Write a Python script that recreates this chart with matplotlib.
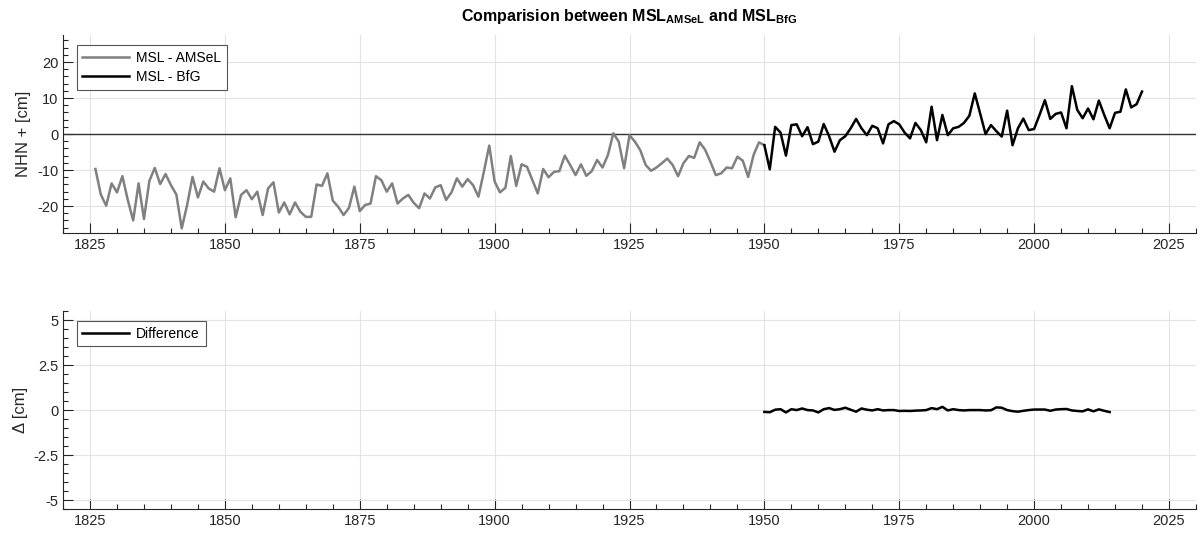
import numpy as np
import matplotlib
matplotlib.use('Agg')
import matplotlib.pyplot as plt
from matplotlib.ticker import MultipleLocator, FormatStrFormatter

plt.rcParams['font.family'] = ['Liberation Sans', 'DejaVu Sans']
plt.rcParams['mathtext.fontset'] = 'custom'
plt.rcParams['mathtext.rm'] = 'Liberation Sans'
plt.rcParams['mathtext.bf'] = 'Liberation Sans:bold'
plt.rcParams['axes.unicode_minus'] = False

# annual mean sea level, AMSeL reconstruction (cm above NHN)
years_amsel = np.arange(1826, 1951)
msl_amsel = [-9.7, -16.8, -19.9, -13.7, -16.2, -11.7, -18.3, -24.0, -13.7, -23.6,
             -13.0, -9.4, -13.9, -11.1, -14.2, -16.8, -26.2, -19.7, -11.9, -17.6,
             -13.2, -15.1, -16.0, -9.5, -15.6, -12.3, -23.1, -16.9, -15.6, -18.1,
             -16.0, -22.5, -15.1, -13.4, -21.8, -19.0, -22.3, -19.0, -21.6, -23.0,
             -23.0, -14.0, -14.4, -10.9, -18.5, -20.2, -22.5, -20.5, -14.6, -21.4,
             -19.7, -19.3, -11.7, -12.8, -16.0, -13.7, -19.3, -17.9, -16.9, -19.1,
             -20.6, -16.5, -17.9, -14.8, -14.2, -18.3, -16.2, -12.3, -14.6, -12.5,
             -14.2, -17.4, -10.5, -3.2, -13.2, -16.2, -14.9, -6.1, -14.4, -8.4,
             -9.1, -12.8, -16.5, -9.7, -12.0, -10.5, -10.3, -6.0, -8.6, -11.4,
             -8.4, -11.6, -10.3, -7.2, -9.3, -5.8, 0.2, -2.1, -9.5, -0.3,
             -2.1, -4.5, -8.6, -10.2, -9.3, -8.1, -6.8, -8.6, -11.7, -8.1,
             -6.1, -6.6, -2.3, -4.3, -7.7, -11.4, -10.9, -9.3, -9.5, -6.3,
             -7.4, -11.9, -5.8, -2.3, -3.1]

# BfG series
years_bfg = np.arange(1950, 2021)
msl_bfg = [-3.1, -9.8, 2.0, 0.4, -6.0, 2.5, 2.7, -0.6, 1.9, -2.8,
           -2.1, 2.8, -0.6, -4.9, -1.7, -0.6, 1.6, 4.2, 1.6, -0.3,
           2.3, 1.6, -2.6, 2.7, 3.6, 2.7, 0.4, -1.2, 3.1, 1.1,
           -2.3, 7.6, -1.7, 5.3, -0.3, 1.6, 2.0, 3.1, 5.1, 11.3,
           5.7, 0.0, 2.5, 0.8, -0.7, 6.5, -3.1, 1.6, 4.3, 1.1,
           1.4, 5.3, 9.4, 4.2, 5.6, 6.0, 1.6, 13.3, 6.7, 4.4,
           7.1, 4.1, 9.3, 5.3, 1.6, 5.9, 6.2, 12.4, 7.4, 8.3,
           11.8]

# difference AMSeL - BfG in overlap period
years_diff = np.arange(1950, 2015)
diff = [-0.10, -0.12, 0.02, 0.05, -0.13, 0.05, 0.00, 0.09, 0.00, -0.02,
        -0.13, 0.05, 0.11, 0.01, 0.05, 0.13, 0.02, -0.09, 0.09, 0.02,
        -0.02, 0.05, -0.02, 0.00, 0.00, -0.05, -0.04, -0.05, -0.03, -0.02,
        0.00, 0.11, 0.05, 0.18, -0.02, 0.05, 0.00, -0.02, 0.00, 0.00,
        0.00, -0.02, -0.01, 0.15, 0.13, 0.00, -0.06, -0.09, -0.04, 0.00,
        0.03, 0.03, 0.03, -0.04, 0.03, 0.05, 0.06, -0.02, -0.05, -0.07,
        0.04, -0.07, 0.04, -0.04, -0.11]

axcol = '#262626'

fig = plt.figure(figsize=(12.01, 5.37), dpi=100)
ax1 = fig.add_axes([0.0525, 0.566, 0.9433, 0.3687])
ax2 = fig.add_axes([0.0525, 0.052, 0.9433, 0.3687])

ax1.axhline(0, color='#333333', lw=1.0, zorder=1.5)
ax1.plot(years_amsel, msl_amsel, color='#808080', lw=1.8, label='MSL - AMSeL')
ax1.plot(years_bfg, msl_bfg, color='black', lw=1.8, label='MSL - BfG')
ax1.set_ylim(-27.5, 27.5)
ax1.set_ylabel('NHN + [cm]', fontsize=12, color=axcol)
ax1.yaxis.set_major_locator(MultipleLocator(10))
ax1.yaxis.set_minor_locator(MultipleLocator(2))
ax1.set_title(r'Comparision between MSL$_\mathbf{AMSeL}$ and MSL$_\mathbf{BfG}$',
              fontsize=11.5, fontweight='bold', pad=10)

ax2.plot(years_diff, diff, color='black', lw=1.8, label='Difference')
ax2.set_ylim(-5.5, 5.5)
ax2.set_ylabel('Δ [cm]', fontsize=12, color=axcol)
ax2.yaxis.set_major_locator(MultipleLocator(2.5))
ax2.yaxis.set_minor_locator(MultipleLocator(0.5))
ax2.yaxis.set_major_formatter(FormatStrFormatter('%g'))

for ax in (ax1, ax2):
    ax.set_xlim(1820, 2030)
    ax.xaxis.set_major_locator(MultipleLocator(25))
    ax.xaxis.set_minor_locator(MultipleLocator(5))
    ax.grid(True, which='major', color='#e3e3e3', lw=0.8)
    ax.set_axisbelow(True)
    for s in ('top', 'right'):
        ax.spines[s].set_visible(False)
    for s in ('left', 'bottom'):
        ax.spines[s].set_color(axcol)
        ax.spines[s].set_linewidth(0.8)
    ax.tick_params(which='both', direction='in', colors=axcol, labelsize=10.5, width=0.8)
    ax.tick_params(which='major', length=7)
    ax.tick_params(which='minor', length=3.5)
    leg = ax.legend(loc='upper left', bbox_to_anchor=(0.012, 0.95), borderaxespad=0,
                    fancybox=False, fontsize=10, handlelength=3.4, handletextpad=0.5,
                    labelspacing=0.4, edgecolor='#555555', framealpha=1)
    leg.get_frame().set_linewidth(0.8)

plt.savefig('out.png', dpi=100)
